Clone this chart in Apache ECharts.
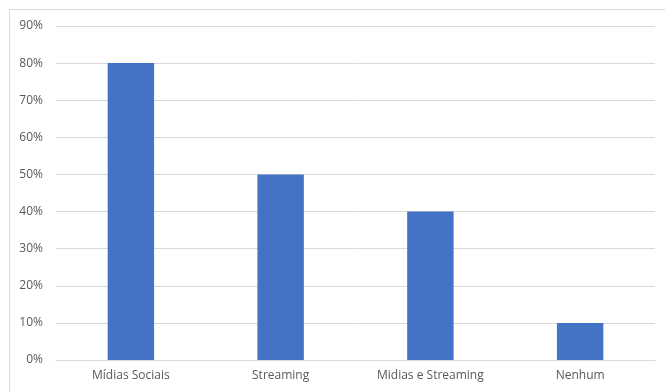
<!DOCTYPE html>
<html>
<head>
<meta charset="utf-8">
<script src="https://cdn.jsdelivr.net/npm/echarts@6/dist/echarts.min.js"></script>
<style>
  html, body { margin: 0; padding: 0; background: #fff; }
  #main { width: 665px; height: 392px; }
</style>
</head>
<body>
<div id="main"></div>
<script>
var categories = ['Mídias Sociais', 'Streaming', 'Midias e Streaming', 'Nenhum'];
var values = [80, 50, 40, 10];

var myChart = echarts.init(document.getElementById('main'));

var option = {
    animation: false,
    textStyle: { fontFamily: 'Open Sans' },
    graphic: [{
        type: 'rect',
        shape: { x: 9.5, y: 9.5, width: 700, height: 420 },
        style: { fill: 'none', stroke: '#d9d9d9', lineWidth: 1 },
        silent: true
    }],
    grid: { left: 56, right: 10, top: 26, bottom: 32 },
    xAxis: {
        type: 'category',
        data: categories,
        axisTick: { show: false },
        axisLine: { lineStyle: { color: '#d9d9d9' } },
        axisLabel: { color: '#595959', fontSize: 12, margin: 10 }
    },
    yAxis: {
        type: 'value',
        min: 0,
        max: 90,
        interval: 10,
        axisLabel: { color: '#595959', fontSize: 12, margin: 13, formatter: '{value}%' },
        splitLine: { lineStyle: { color: '#d9d9d9' } }
    },
    series: [{
        type: 'bar',
        data: values,
        barWidth: '31%',
        itemStyle: { color: '#4472c4' }
    }]
};

myChart.setOption(option);
</script>
</body>
</html>
